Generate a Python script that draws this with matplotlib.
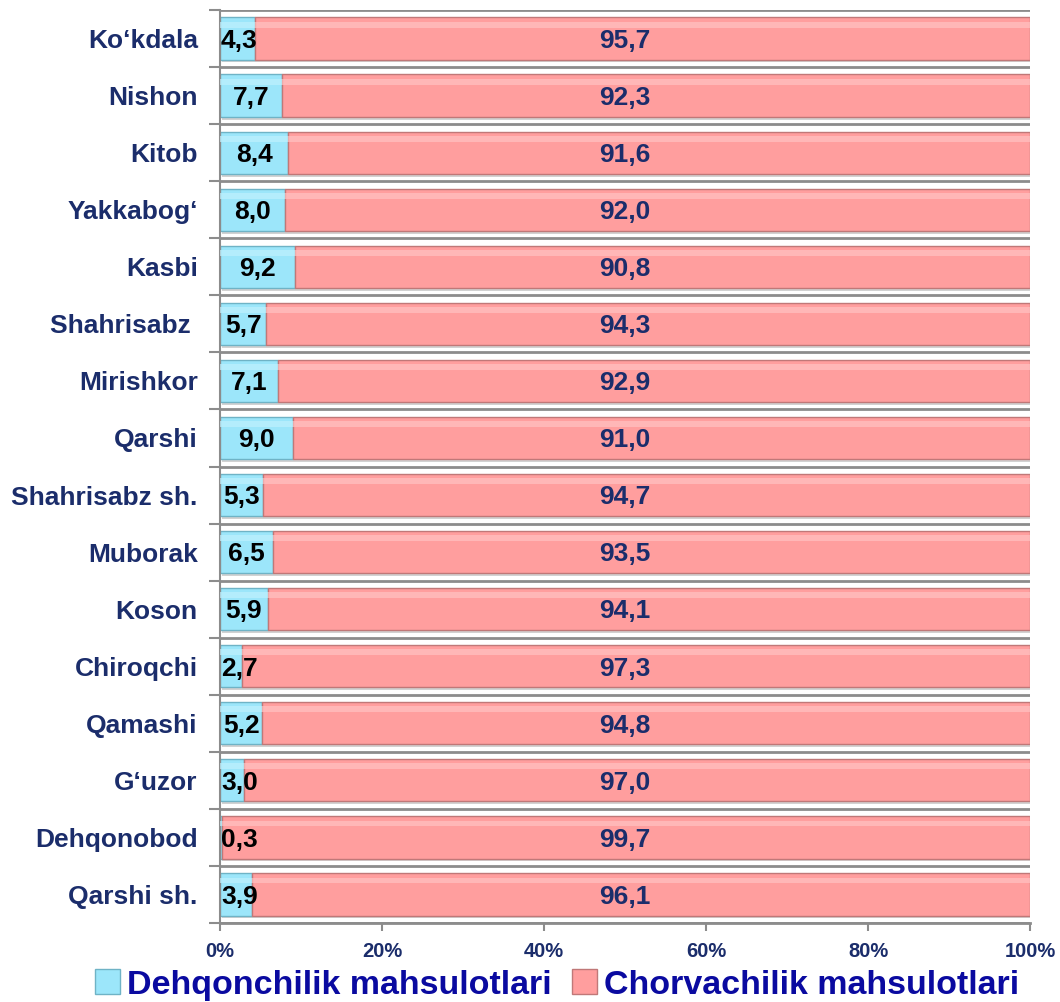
import numpy as np
import matplotlib.pyplot as plt
from matplotlib.ticker import FixedLocator, PercentFormatter
from matplotlib.patches import Patch

# categories from top to bottom as in the picture
districts = ["Ko\u2018kdala", "Nishon", "Kitob", "Yakkabog\u2018", "Kasbi", "Shahrisabz ",
             "Mirishkor", "Qarshi", "Shahrisabz sh.", "Muborak", "Koson", "Chiroqchi",
             "Qamashi", "G\u2018uzor", "Dehqonobod", "Qarshi sh."]
dehqon = [4.3, 7.7, 8.4, 8.0, 9.2, 5.7, 7.1, 9.0, 5.3, 6.5, 5.9, 2.7, 5.2, 3.0, 0.3, 3.9]
chorva = [95.7, 92.3, 91.6, 92.0, 90.8, 94.3, 92.9, 91.0, 94.7, 93.5, 94.1, 97.3, 94.8, 97.0, 99.7, 96.1]
series_names = ["Dehqonchilik mahsulotlari", "Chorvachilik mahsulotlari"]

plt.rcParams['font.family'] = ['Liberation Sans', 'DejaVu Sans']
plt.rcParams['font.weight'] = 'bold'

navy = "#1b2d6b"
blue = "#9ce6fa"
red = "#ff9e9e"
grid_gray = "#8c8c8c"

fig = plt.figure(figsize=(10.6, 10.02), dpi=100)
ax = fig.add_axes([220 / 1060, 1 - 923 / 1002, 810 / 1060, 913 / 1002])

y = np.arange(len(districts))[::-1]
h = 0.74

# bar shadows
ax.barh(y - 0.05, np.array(dehqon) + np.array(chorva), left=0.3, height=h,
        color="#d2d2d2", zorder=1)
ax.barh(y, dehqon, height=h, color=blue, edgecolor="#6fb3c6", linewidth=1, zorder=2)
ax.barh(y, chorva, left=dehqon, height=h, color=red, edgecolor="#c07878", linewidth=1, zorder=2)
# soft top highlight
ax.barh(y + h * 0.33, dehqon, height=h * 0.14, color="#bff0fd", linewidth=0, zorder=3, alpha=0.7)
ax.barh(y + h * 0.33, chorva, left=dehqon, height=h * 0.14, color="#ffc2c2", linewidth=0, zorder=3, alpha=0.7)

for yi, d, c in zip(y, dehqon, chorva):
    xb = max(d / 2, 2.4)
    ax.text(xb, yi - 0.04, f"{d:.1f}".replace(".", ","), ha="center", va="center",
            fontsize=19, fontweight="bold", color="black", zorder=4)
    ax.text(50, yi - 0.04, f"{c:.1f}".replace(".", ","), ha="center", va="center",
            fontsize=19, fontweight="bold", color=navy, zorder=4)

ax.set_xlim(0, 100)
ax.set_ylim(-0.5, len(districts) - 0.5)
ax.set_yticks(y)
ax.set_yticklabels(districts, fontsize=19, fontweight="bold", color=navy)
ax.yaxis.set_minor_locator(FixedLocator(np.arange(-0.5, len(districts), 1)))
ax.tick_params(axis="y", which="major", length=0, pad=16)
ax.tick_params(axis="y", which="minor", length=8, width=1.5, color=grid_gray)
ax.grid(axis="y", which="minor", color=grid_gray, linewidth=2, zorder=0)
ax.set_axisbelow(True)

ax.set_xticks([0, 20, 40, 60, 80, 100])
ax.xaxis.set_major_formatter(PercentFormatter(decimals=0))
ax.tick_params(axis="x", length=6, width=1.5, color=grid_gray, labelsize=14.5,
               labelcolor=navy, pad=8)
for lab in ax.get_xticklabels():
    lab.set_fontweight("bold")

for s in ["top", "right"]:
    ax.spines[s].set_visible(False)
ax.spines["left"].set_color(grid_gray)
ax.spines["left"].set_linewidth(1.5)
ax.spines["bottom"].set_color(grid_gray)
ax.spines["bottom"].set_linewidth(2)

handles = [Patch(facecolor=blue, edgecolor="#6fb3c6"), Patch(facecolor=red, edgecolor="#c07878")]
fig.legend(handles, series_names, loc="center", bbox_to_anchor=(557 / 1060, 17 / 1002),
           ncol=2, frameon=False, handlelength=0.75, handleheight=0.75,
           handletextpad=0.2, columnspacing=0.6, borderaxespad=0,
           prop={"size": 24.5, "weight": "bold"}, labelcolor="#0a0aa0")

fig.savefig("out.png", dpi=100)
